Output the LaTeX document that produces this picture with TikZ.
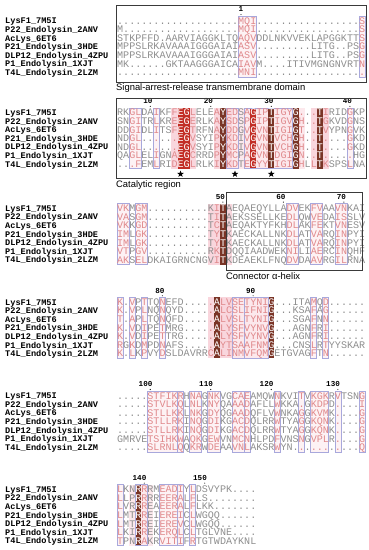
\documentclass[tikz,border=0pt]{standalone}
\usepackage{fontspec}
\setsansfont{Liberation Sans}
\newfontfamily\resfam{Liberation Mono}
\usepackage{xcolor}
\usepackage{tikz}
\usetikzlibrary{shapes.geometric}
\definecolor{resgray}{HTML}{8E8E8E}
\definecolor{simred}{HTML}{E0898C}
\definecolor{conred}{HTML}{C22D25}
\definecolor{conbrown}{HTML}{7A3426}
\definecolor{pinkbg}{HTML}{F9D6DD}
\definecolor{pinklight}{HTML}{FCE8EC}
\definecolor{pinkpale}{HTML}{FDF2F4}
\definecolor{framecol}{HTML}{A8A8DC}
\definecolor{boxgray}{HTML}{3A3A3A}

\newcommand\namefont{\resfam\bfseries\fontsize{8.6}{9}\selectfont}
\newcommand\resfont{\resfam\fontsize{10.08}{10}\selectfont}
\newcommand\numfont{\resfam\bfseries\fontsize{7.6}{8}\selectfont}
\newcommand\lblfont{\sffamily\fontsize{9.4}{10}\selectfont}

% colour of each residue from the class string of its block: d = white, s = red
\ExplSyntaxOn
\int_new:N \l_aln_col_int
\str_new:N \l_aln_row_str
\str_new:N \g_aln_cls_str
\NewDocumentCommand \setcls { m } { \str_gset:Nn \g_aln_cls_str {#1} }
\NewDocumentCommand \alnrow { m }
 {
  \str_set:Nn \l_aln_row_str {#1}
  \int_zero:N \l_aln_col_int
  \str_map_inline:Nn \l_aln_row_str
   {
    \int_incr:N \l_aln_col_int
    \str_case_e:nnF { \str_item:Nn \g_aln_cls_str { \l_aln_col_int } }
     {
      { d } { \textcolor{white}{##1} }
      { s } { \textcolor{simred}{##1} }
     }
     { ##1 }
   }
 }
\ExplSyntaxOff

% band over columns #2..#3 of the block whose first row is at #4
\newcommand\colband[4]{\path[#1] ({117+(#2-1)*6.05},{#4-4.6}) rectangle ({117+#3*6.05},{#4+56.2});}

% names and the seven rows of one block
\newcommand\alnblock[9]{%
  \foreach \nm [count=\r from 0] in {LysF1\_7M5I,P22\_Endolysin\_2ANV,AcLys\_6ET6,P21\_Endolysin\_3HDE,DLP12\_Endolysin\_4ZPU,P1\_Endolysin\_1XJT,T4L\_Endolysin\_2LZM}
    \node[seqname] (#1n\r) at (5,{#2+\r*8.6+3}) {\nm};
  \node[seqrow] (#1s0) at (117,{#2+3.3}) {\alnrow{#3}};
  \node[seqrow] (#1s1) at (117,{#2+8.6+3.3}) {\alnrow{#4}};
  \node[seqrow] (#1s2) at (117,{#2+17.2+3.3}) {\alnrow{#5}};
  \node[seqrow] (#1s3) at (117,{#2+25.8+3.3}) {\alnrow{#6}};
  \node[seqrow] (#1s4) at (117,{#2+34.4+3.3}) {\alnrow{#7}};
  \node[seqrow] (#1s5) at (117,{#2+43+3.3}) {\alnrow{#8}};
  \node[seqrow] (#1s6) at (117,{#2+51.6+3.3}) {\alnrow{#9}};
}

% residue numbers with their tick dot
\newcommand\resnums[3]{%
  \foreach \c/\n in {#3} {
    \node[resnum] (#1num\n) at ({117+(\c-0.5)*6.05+2.3},{#2-9}) {\n};
    \fill ({117+(\c-0.5)*6.05},{#2-6.2}) circle (0.55pt);
  }
}

\begin{document}
\begin{tikzpicture}[x=1pt,y=-1pt,
  seqname/.style={anchor=base west,inner sep=0,font=\namefont},
  seqrow/.style={anchor=base west,inner sep=0,font=\resfont,text=resgray},
  resnum/.style={anchor=base east,inner sep=0,font=\numfont},
  palebox/.style={fill=pinkpale},
  simbg/.style={fill=#1},
  simframe/.style={draw=framecol,line width=0.6pt},
  regionbox/.style={draw=boxgray,line width=0.9pt},
  regionlbl/.style={anchor=west,inner sep=0,font=\lblfont},
  starmark/.style={star,star points=5,star point ratio=2.4,fill=black,inner sep=0,minimum size=7pt}
]
\useasboundingbox (0,0) rectangle (369,550);

% block 1
\def\frmA{21/23,41/41}
\foreach \a/\b in \frmA {\colband{palebox}{\a}{\b}{20.8}}
\foreach \a/\b in \frmA {\colband{simframe}{\a}{\b}{20.8}}
\setcls{....................sss.................s}
\alnblock{A}{20.8}
  {....................MQI.................S}
  {M...................MQI.................S}
  {STKPFFD.AARVIAGGKLTQAQVDDLNKVVEKLAPGGKTTS}
  {MPPSLRKAVAAAIGGGAIAIASV.........LITG..PSG}
  {MPPSLRKAVAAAIGGGAIAIASV.........LITG..PSG}
  {MK......GKTAAGGGAICAIAVM....ITIVMGNGNVRTN}
  {....................MNI..................}
\resnums{A}{20.8}{21/1}
\draw[regionbox] (116,5) rectangle (366,82.5);
\node[regionlbl] (lblA) at (116,88.5) {Signal-arrest-release transmembrane domain};

% block 2
\def\frmB{3/4,7/7,19/20,22/29,39/39}
\foreach \a/\b in \frmB {\colband{palebox}{\a}{\b}{112.5}}
\foreach \a/\b/\c in {10/13/pinkbg,17/19/pinkbg,20/31/pinklight,33/35/pinkbg} {\colband{simbg=\c}{\a}{\b}{112.5}}
\foreach \a/\b/\c in {11/12/conred,23/23/conred,18/18/conbrown,26/26/conbrown,30/30/conbrown,34/34/conbrown} {\colband{fill=\c}{\a}{\b}{112.5}}
\foreach \a/\b in \frmB {\colband{simframe}{\a}{\b}{112.5}}
\setcls{..ss..s..sdds...sdss.sdssdsssds.sds...s..}
\alnblock{B}{112.5}
  {RKGLDAIKFFEGLELEAYEDSAGIPTIGYG...TIRIDGKP}
  {SNGITRLKREEGERLKAYSDSPGIPTIGVGH..TGKVDGNS}
  {DDGIDLITSFEGTRFNAYDDGVGVNTIGIGT..TVYPNGVK}
  {NDGL......EGVSYIPYKDIVGVNTVCHGH..T....GKD}
  {NDGL......EGVSYIPYKDIVGVNTVCHGH..T....GKD}
  {QAGLELIGNAEGCRRDPYMCPAGVNTDGIGN..T.....HG}
  {...FEMLRIDEGLRLKIYKDTEGYYTIGIGHLLTKSPSLNA}
\resnums{B}{112.5}{6/10,16/20,26/30,39/40}
\foreach \c [count=\i] in {11,20,26}
  \node[starmark] (star\i) at ({117+(\c-0.5)*6.05},174) {};
\draw[regionbox] (116,98) rectangle (366,178);
\node[regionlbl] (lblB) at (116,185) {Catalytic region};

% block 3
\def\frmC{1/2,4/5,29/30,33/34,37/38}
\foreach \a/\b in \frmC {\colband{palebox}{\a}{\b}{208.3}}
\colband{simbg=pinkbg}{16}{19}{208.3}
\colband{fill=conbrown}{18}{18}{208.3}
\foreach \a/\b in \frmC {\colband{simframe}{\a}{\b}{208.3}}
\setcls{ss.ss...........sd..........ss..ss..ss...}
\alnblock{C}{208.3}
  {VKMGM..........KITAEQAEQYLLADVEKFVAAVNKAI}
  {VASGM..........TITAEKSSELLKEDLQWVEDAISSLV}
  {VKKGD..........TCTAEQAKTYFKHDLAKFEKTVNESV}
  {IMLGK..........TYTKAECKALLNKDLATVARQINPYI}
  {IMLGK..........TYTKAECKALLNKDLATVARQINPYI}
  {VTPGV..........RKTDQQIAADWEKNILIAERCINQHF}
  {AKSELDKAIGRNCNGVITKDEAEKLFNQDVDAAVRGILRNA}
\resnums{C}{208.3}{18/50,28/60,38/70}
\draw[regionbox] (226,192) rectangle (362,270);
\node[regionlbl] (lblC) at (226,276.5) {Connector α-helix};

% block 4
\def\frmD{1/1,3/3,5/5,8/8,20/21,22/25,33/33,35/35}
\foreach \a/\b in \frmD {\colband{palebox}{\a}{\b}{302}}
\foreach \a/\b/\c in {16/19/pinkbg,20/26/pinklight} {\colband{simbg=\c}{\a}{\b}{302}}
\foreach \a in {17,26} {\colband{fill=conbrown}{\a}{\a}{302}}
\foreach \a/\b in \frmD {\colband{simframe}{\a}{\b}{302}}
\setcls{s.s.s..s.......sdssssssssd......s.s......}
\alnblock{D}{302}
  {K.VPTTQNEFD.....ALVSETYNIG...ITAMQD......}
  {K.VPLNQNQYD.....ALCSLIFNIG...KSAFAG......}
  {T.APLTQNQFD.....ALVSLTYNIG...SGAFNN......}
  {K.VDIPETMRG.....ALYSFVYNVG...AGNFRI......}
  {K.VDIPETTRG.....ALYSFVYNVG...AGNFRI......}
  {RGKDMPDNAFS.....AYTSAAFNMG...CNSLRTYYSKAR}
  {K.LKPVYDSLDAVRRCALINMVFQMGETGVAGFTN......}
\resnums{D}{302}{8/80,23/90}

% block 5
\def\frmE{6/10,11/11,13/14,16/17,20/21,22/22,27/27,31/31,33/35,37/37,41/41}
\foreach \a/\b in \frmE {\colband{palebox}{\a}{\b}{395.7}}
\foreach \a/\b in \frmE {\colband{simframe}{\a}{\b}{395.7}}
\setcls{.....ssssss.ss.ss..sss....s...s.sss.s...s}
\alnblock{E}{395.7}
  {.....STFIKRHNAGNKVGCAEAMQWNKVITVKGKRVTSNG}
  {.....STVLKQLNLKNYQAAADAFLLWKKA.GKDPD....I}
  {.....STLLKKLNKGDYQGAADQFLVWNKAGGKVMK....G}
  {.....STLLRKINQGDIKGACDQLRRWTYAGGKQNK....G}
  {.....STLLRKINQGDIKGACDQLRRWTYAGGKQNK....G}
  {GMRVETSIHKWAQKGEWVNMCNHLPDFVNSNGVPLR....G}
  {.....SLRNLQQKRWDEAAVNLAKSRWYN...........Q}
\resnums{E}{395.7}{6/100,16/110,26/120,37/130}

% block 6
\def\frmF{1/1,4/5,8/10,11/11,13/13}
\foreach \a/\b in \frmF {\colband{palebox}{\a}{\b}{489.3}}
\colband{simbg=pinklight}{3}{6}{489.3}
\colband{fill=conbrown}{4}{4}{489.3}
\foreach \a/\b in \frmF {\colband{simframe}{\a}{\b}{489.3}}
\setcls{s..ds..ssss.s..........}
\alnblock{F}{489.3}
  {LKNRRRMEADIYLDSVYPK....}
  {LLPRRRREERALFLS........}
  {LVRRREAEERALFLKK.......}
  {LMTRREIEREICLWGQQ......}
  {LMTRREIEREVCLWGQQ......}
  {LKIRREKERQLCLTGLVNE....}
  {TPNRAKRVITIFRTGTWDAYKNL}
\resnums{F}{489.3}{5/140,15/150}
\end{tikzpicture}
\end{document}
